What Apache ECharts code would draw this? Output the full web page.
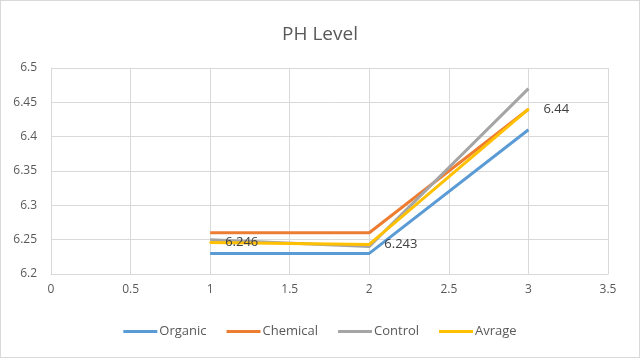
<!DOCTYPE html>
<html><head><meta charset="utf-8">
<script src="https://cdn.jsdelivr.net/npm/echarts@6/dist/echarts.min.js"></script>
<style>html,body{margin:0;padding:0;background:#fff}#c{width:640px;height:358px;box-sizing:border-box;border:1px solid #d9d9d9}</style>
</head><body><div id="c"></div>
<script>
const xValues = [1, 2, 3];
const organic = [6.23, 6.23, 6.41];
const chemical = [6.26, 6.26, 6.44];
const control = [6.25, 6.24, 6.47];
const avrage = [6.246, 6.243, 6.44];
const avrageLabels = ['6.246', '6.243', '6.44'];
const seriesNames = ['Organic', 'Chemical', 'Control', 'Avrage'];
const colors = ['#5B9BD5', '#ED7D31', '#A5A5A5', '#FFC000'];

const pairs = a => xValues.map((x, i) => [x, a[i]]);
const font = 'Open Sans, Liberation Sans, sans-serif';
const chart = echarts.init(document.getElementById('c'));
const avgData = xValues.map((x, i) => ({
  value: [x, avrage[i]],
  label: {show: true, formatter: avrageLabels[i]}
}));
chart.setOption({
  animation: false,
  color: colors,
  textStyle: {fontFamily: font},
  title: {text: 'PH Level', left: 'center', top: 19, textStyle: {fontSize: 19, fontWeight: 'normal', color: '#595959', fontFamily: font}},
  grid: {left: 50, right: 31, top: 67, bottom: 83, containLabel: false},
  legend: {bottom: 14, left: 'center', itemWidth: 34, itemHeight: 3, itemGap: 20, icon: 'rect',
    textStyle: {color: '#595959', fontSize: 13, fontFamily: font, padding: [0,0,0,-3]},
    data: seriesNames},
  xAxis: {type: 'value', min: 0, max: 3.5, interval: 0.5,
    axisLine: {show: true, lineStyle: {color: '#d9d9d9'}}, axisTick: {show: false},
    axisLabel: {color: '#595959', fontSize: 12, margin: 10},
    splitLine: {show: true, lineStyle: {color: '#d9d9d9'}}},
  yAxis: {type: 'value', min: 6.2, max: 6.5, interval: 0.05,
    axisLine: {show: true, lineStyle: {color: '#d9d9d9'}}, axisTick: {show: false},
    axisLabel: {color: '#595959', fontSize: 12, margin: 14, formatter: v => String(+v.toFixed(2))},
    splitLine: {show: true, lineStyle: {color: '#d9d9d9'}}},
  series: [
    {name: seriesNames[0], type: 'line', data: pairs(organic), showSymbol: false, lineStyle: {width: 3}},
    {name: seriesNames[1], type: 'line', data: pairs(chemical), showSymbol: false, lineStyle: {width: 3}},
    {name: seriesNames[2], type: 'line', data: pairs(control), showSymbol: false, lineStyle: {width: 3}},
    {name: seriesNames[3], type: 'line', data: avgData, showSymbol: true, symbol: 'circle', symbolSize: 2,
      itemStyle: {color: '#FFC000'}, lineStyle: {width: 3}, labelLayout: {hideOverlap: false},
      label: {show: true, position: 'right', distance: 14, color: '#404040', fontSize: 13, fontFamily: font}}
  ]
});
</script></body></html>
